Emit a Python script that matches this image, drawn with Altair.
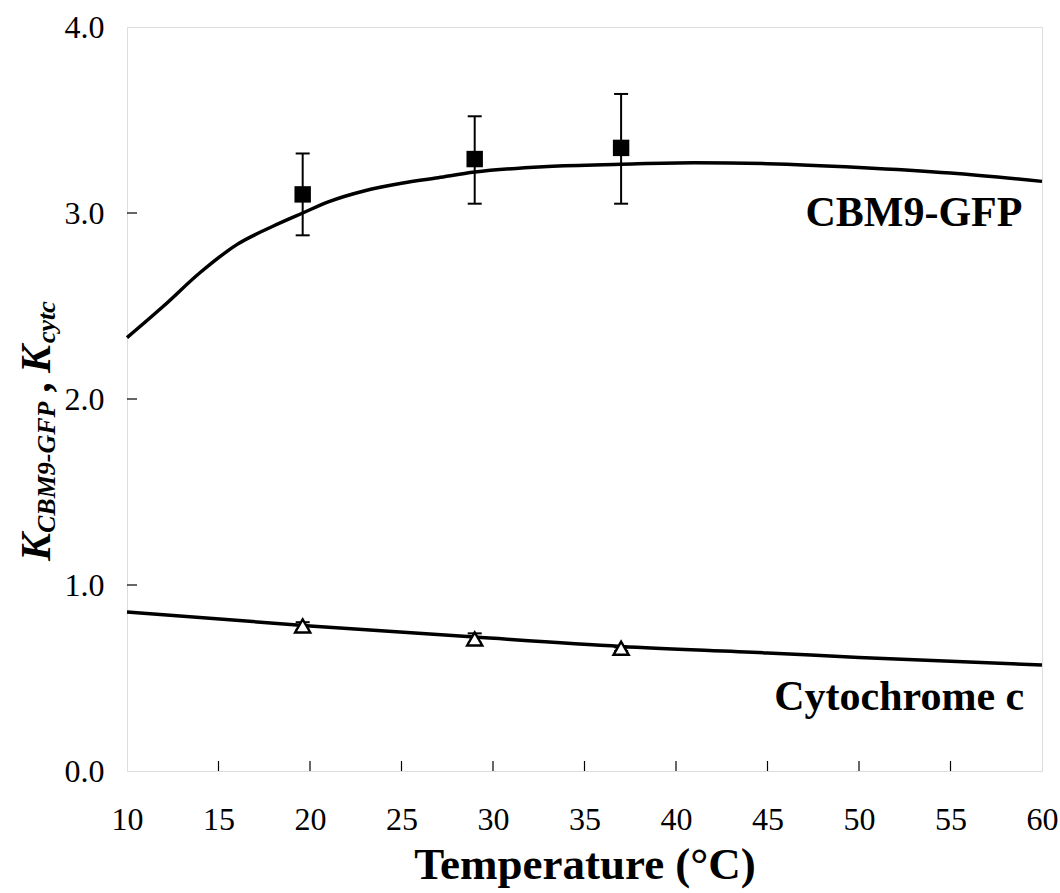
import altair as alt
import pandas as pd

# Measured binding constants with error bars
temps = [19.6, 29.0, 37.0]
cbm_k = [3.10, 3.29, 3.35]
cbm_lo = [2.88, 3.05, 3.05]
cbm_hi = [3.32, 3.52, 3.64]
cyt_k = [0.78, 0.71, 0.66]
cyt_lo = [0.76, 0.69, 0.645]
cyt_hi = [0.80, 0.74, 0.665]

# Model curves
cbm_curve_t = [10, 12, 14, 16, 18, 19.6, 21, 23, 25, 27, 29, 33, 37, 41, 45, 50, 55, 60]
cbm_curve_k = [2.33, 2.50, 2.68, 2.83, 2.93, 3.00, 3.06, 3.12, 3.16, 3.19, 3.22, 3.25, 3.262, 3.27, 3.265, 3.245, 3.215, 3.17]
cyt_curve_t = [10, 20, 29, 37, 45, 50, 60]
cyt_curve_k = [0.855, 0.78, 0.72, 0.67, 0.635, 0.61, 0.57]

x_ticks = [15, 20, 25, 30, 35, 40, 45, 50, 55]
y_ticks = [1, 2, 3]

W, H = 915, 744
FONT = "Liberation Serif"

xs = alt.Scale(domain=[10, 60], nice=False, zero=False)
ys = alt.Scale(domain=[0, 4], nice=False)
x_axis = alt.Axis(values=list(range(10, 61, 5)), ticks=False, domain=False, grid=False,
                  labelFlush=False, labelOverlap=False,
                  labelFont=FONT, labelFontSize=32, labelColor="black", labelPadding=33,
                  title="Temperature (°C)", titleFont=FONT, titleFontSize=45,
                  titleFontWeight="bold", titleColor="black", titlePadding=7)
y_axis = alt.Axis(values=[0, 1, 2, 3, 4], format=".1f", ticks=False, domain=False, grid=False,
                  labelFlush=False, labelOverlap=False,
                  labelFont=FONT, labelFontSize=32, labelColor="black", labelPadding=23,
                  title=None)


def X(field="T"):
    return alt.X(f"{field}:Q", scale=xs, axis=x_axis)


def Y(field="K"):
    return alt.Y(f"{field}:Q", scale=ys, axis=y_axis)


cbm_pts = pd.DataFrame({"T": temps, "K": cbm_k, "lo": cbm_lo, "hi": cbm_hi})
cyt_pts = pd.DataFrame({"T": temps, "K": cyt_k, "lo": cyt_lo, "hi": cyt_hi})
cbm_curve = pd.DataFrame({"T": cbm_curve_t, "K": cbm_curve_k})
cyt_curve = pd.DataFrame({"T": cyt_curve_t, "K": cyt_curve_k})

layers = []

# inward tick marks on the frame
layers.append(alt.Chart(pd.DataFrame({"T": x_ticks})).mark_rule(color="black", strokeWidth=1.2)
              .encode(x=X(), y=alt.value(H), y2=alt.value(H - 10)))
layers.append(alt.Chart(pd.DataFrame({"K": y_ticks})).mark_rule(color="black", strokeWidth=1.2)
              .encode(y=Y(), x=alt.value(0), x2=alt.value(10)))

# curves
for df in (cbm_curve, cyt_curve):
    layers.append(alt.Chart(df).mark_line(color="black", strokeWidth=3.5, interpolate="monotone")
                  .encode(x=X(), y=Y()))

# error bars with caps
for df in (cbm_pts, cyt_pts):
    layers.append(alt.Chart(df).mark_rule(color="black", strokeWidth=2)
                  .encode(x=X(), y=Y("lo"), y2="hi:Q"))
    for end in ("lo", "hi"):
        layers.append(alt.Chart(df).mark_rule(color="black", strokeWidth=2, xOffset=-7, x2Offset=7)
                      .encode(x=X(), x2="T:Q", y=Y(end)))

# markers
layers.append(alt.Chart(cbm_pts).mark_point(shape="square", filled=True, color="black", size=270, opacity=1)
              .encode(x=X(), y=Y()))
layers.append(alt.Chart(cyt_pts).mark_point(shape="triangle-up", filled=True, fill="white", stroke="black",
                                            strokeWidth=2.4, size=230, opacity=1)
              .encode(x=X(), y=Y()))

# series labels
labels = pd.DataFrame({"T": [53.0, 52.2], "K": [3.0, 0.40], "name": ["CBM9-GFP", "Cytochrome c"]})
layers.append(alt.Chart(labels).mark_text(font=FONT, fontSize=42, fontWeight="bold", color="black",
                                          align="center", baseline="middle")
              .encode(x=X(), y=Y(), text="name:N"))

# rotated y-axis title with subscripts
ytitle = [
    ("K", 42, -77, 534),
    ("CBM9-GFP", 26, -72, 506),
    (",", 42, -77, 364),
    ("K", 42, -77, 346),
    ("cytc", 26, -72, 316),
]
for txt, size, px, py in ytitle:
    layers.append(alt.Chart(pd.DataFrame({"s": [txt]})).mark_text(
        font=FONT, fontSize=size, fontWeight="bold", fontStyle="italic", color="black",
        angle=270, align="left", baseline="alphabetic")
        .encode(text="s:N", x=alt.value(px), y=alt.value(py)))

chart = alt.layer(*layers).properties(
    width=W, height=H,
    autosize=alt.AutoSizeParams(type="none"),
    padding={"left": 127, "top": 27, "right": 18, "bottom": 122},
).configure_view(stroke="black", strokeWidth=1.5).configure(background="white")

chart.save("out.html", embed_options={"renderer": "svg", "actions": False})
